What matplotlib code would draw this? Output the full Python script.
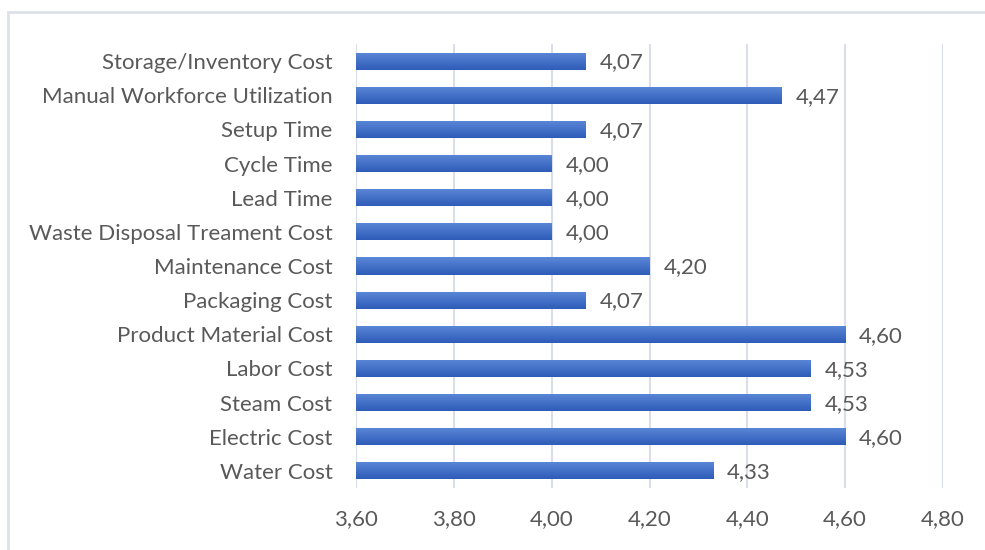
import matplotlib.pyplot as plt
import numpy as np
from matplotlib.patches import Rectangle

# data, bottom to top
categories = ["Water Cost", "Electric Cost", "Steam Cost", "Labor Cost",
              "Product Material Cost", "Packaging Cost", "Maintenance Cost",
              "Waste Disposal Treament Cost", "Lead Time", "Cycle Time",
              "Setup Time", "Manual Workforce Utilization", "Storage/Inventory Cost"]
values = [4.33, 4.60, 4.53, 4.53, 4.60, 4.07, 4.20, 4.00, 4.00, 4.00, 4.07, 4.47, 4.07]
x_ticks = [3.6, 3.8, 4.0, 4.2, 4.4, 4.6, 4.8]

plt.rcParams['font.family'] = ['Lato', 'DejaVu Sans']
text_color = '#595959'

fig = plt.figure(figsize=(9.85, 5.5), dpi=100)
ax = fig.add_axes([356 / 985, 1 - 488 / 550, 587 / 985, 444 / 550])

y = np.arange(len(categories))
bars = ax.barh(y, values, height=0.5, left=0, color='#3a68c4', zorder=2)

# vertical gradient on each bar, light on top and darker below
grad = np.linspace(0, 1, 64).reshape(-1, 1)
cmap = plt.matplotlib.colors.LinearSegmentedColormap.from_list('g', ['#5c88d8', '#2e5cb8'])
for b in bars:
    x0, y0 = b.get_x(), b.get_y()
    w, h = b.get_width(), b.get_height()
    im = ax.imshow(grad, cmap=cmap, aspect='auto', extent=[3.6, x0 + w, y0, y0 + h],
                   origin='upper', zorder=3)
    im.set_clip_path(b)

for yi, v in zip(y, values):
    ax.annotate(f"{v:.2f}".replace('.', ','), (v, yi), xytext=(10, -1),
                textcoords='offset points', va='center', ha='left',
                fontsize=16, color=text_color)

ax.set_xlim(3.6, 4.8)
ax.set_ylim(-0.5, len(categories) - 0.5)
ax.set_xticks(x_ticks)
ax.set_xticklabels([f"{t:.2f}".replace('.', ',') for t in x_ticks])
ax.set_yticks(y)
ax.set_yticklabels(categories)
ax.tick_params(axis='both', length=0, labelsize=16, colors=text_color)
ax.tick_params(axis='x', pad=15)
ax.tick_params(axis='y', pad=17)
ax.grid(axis='x', color='#d9dee8', linewidth=1.5, zorder=0)
ax.set_axisbelow(True)
for s in ax.spines.values():
    s.set_visible(False)

# outer chart frame (cut off at right and bottom)
fig.patches.append(Rectangle((8 / 985, -0.05), 1.05, 1.05 - 12 / 550,
                             transform=fig.transFigure, fill=False,
                             edgecolor='#dde2ea', linewidth=2))

fig.savefig('out.png', dpi=100)
